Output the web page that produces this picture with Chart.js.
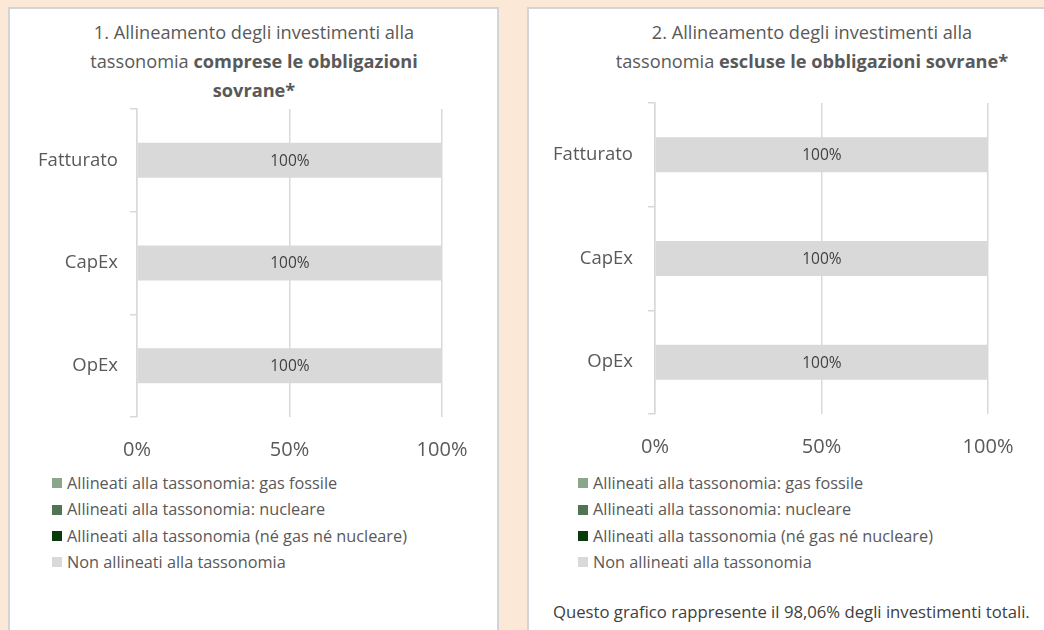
<!DOCTYPE html>
<html><head><meta charset="utf-8">
<script src="https://cdn.jsdelivr.net/npm/chart.js@4.4.1/dist/chart.umd.min.js"></script>
<style>
html,body{margin:0;padding:0;}
body{width:1044px;height:630px;background:#fbe8d6;position:relative;overflow:hidden;font-family:"Open Sans",sans-serif;color:#595959;}
.panel{position:absolute;background:#fff;border:2px solid #d3d3da;box-sizing:border-box;}
canvas{position:absolute;}
.title{position:absolute;text-align:center;font-size:18.2px;line-height:29px;color:#595959;white-space:nowrap;}
.title b{font-weight:700;}
.legend{position:absolute;font-size:16.3px;line-height:26.4px;color:#595959;white-space:nowrap;}
.legend .it{display:flex;align-items:center;}
.legend .sw{width:10px;height:10px;margin-right:5px;display:inline-block;}
.note{position:absolute;font-size:16.7px;color:#404040;white-space:nowrap;}
</style></head>
<body>
<div class="panel" style="left:8px;top:7px;width:491px;height:650px;"></div>
<div class="panel" style="left:527px;top:7px;width:540px;height:650px;"></div>

<div class="title" style="left:54px;width:400px;top:18px;">1. Allineamento degli investimenti alla<br>tassonomia <b>comprese le obbligazioni</b><br><b>sovrane*</b></div>
<div class="title" style="left:612px;width:400px;top:18px;">2. Allineamento degli investimenti alla<br>tassonomia <b>escluse le obbligazioni sovrane*</b></div>

<canvas id="c1" width="510" height="470" style="left:0;top:0;"></canvas>
<canvas id="c2" width="524" height="470" style="left:520px;top:0;"></canvas>

<div class="legend" id="lg1" style="left:52px;top:470px;"></div>
<div class="legend" id="lg2" style="left:578px;top:470px;"></div>
<div class="note" style="left:553px;top:600px;">Questo grafico rappresente il 98,06% degli investimenti totali.</div>

<script>
const categories = ["Fatturato", "CapEx", "OpEx"];
const seriesNames = [
  "Allineati alla tassonomia: gas fossile",
  "Allineati alla tassonomia: nucleare",
  "Allineati alla tassonomia (né gas né nucleare)",
  "Non allineati alla tassonomia"
];
const seriesColors = ["#8aa68b", "#4f7552", "#0b3a0b", "#d9d9d9"];
// chart 1: incl. sovereign bonds
const gasFossile1 = [0, 0, 0];
const nucleare1 = [0, 0, 0];
const neGasNeNucleare1 = [0, 0, 0];
const nonAllineati1 = [100, 100, 100];
// chart 2: excl. sovereign bonds
const gasFossile2 = [0, 0, 0];
const nucleare2 = [0, 0, 0];
const neGasNeNucleare2 = [0, 0, 0];
const nonAllineati2 = [100, 100, 100];
const xTicks = [0, 50, 100];

const labelPlugin = {
  id: 'barLabels',
  afterDatasetsDraw(chart) {
    const ctx = chart.ctx;
    chart.data.datasets.forEach((ds, di) => {
      const meta = chart.getDatasetMeta(di);
      meta.data.forEach((bar, i) => {
        const v = ds.data[i];
        if (!v) return;
        const p = bar.getProps(['x', 'base', 'y'], true);
        ctx.save();
        ctx.font = '15.5px "Open Sans", sans-serif';
        ctx.fillStyle = '#404040';
        ctx.textAlign = 'center';
        ctx.textBaseline = 'middle';
        ctx.fillText(v + '%', (p.x + p.base) / 2, p.y + 1);
        ctx.restore();
      });
    });
  }
};

function makeChart(id, data, area, canvasW, canvasH, yPad) {
  const datasets = data.map((d, k) => ({
    label: seriesNames[k],
    data: d,
    backgroundColor: seriesColors[k],
    borderWidth: 0,
    categoryPercentage: 1,
    barPercentage: 35 / ((area.bottom - area.top) / 3)
  }));
  return new Chart(document.getElementById(id), {
    type: 'bar',
    data: { labels: categories, datasets },
    options: {
      indexAxis: 'y',
      responsive: false,
      animation: false,
      devicePixelRatio: 1,
      layout: { padding: { top: area.top, left: 0, right: canvasW - area.right, bottom: canvasH - area.bottom - 50 } },
      plugins: { legend: { display: false }, tooltip: { enabled: false } },
      scales: {
        x: {
          stacked: true, min: 0, max: 100,
          afterBuildTicks(s) { s.ticks = xTicks.map(v => ({ value: v })); },
          afterFit(s) { s.height = 50; },
          grid: { color: '#d9d9d9', lineWidth: 1.5, drawTicks: false },
          border: { display: false },
          ticks: { callback: v => v + '%', color: '#595959', font: { size: 20, family: '"Open Sans", sans-serif' }, padding: 21 }
        },
        y: {
          stacked: true,
          afterFit(s) { s.width = area.left; },
          grid: { offset: true, drawOnChartArea: false, drawTicks: true, tickLength: 7, color: '#d9d9d9', lineWidth: 1.5 },
          border: { display: true, color: '#d9d9d9', width: 1.5 },
          ticks: { color: '#595959', font: { size: 18.5, family: '"Open Sans", sans-serif' }, padding: yPad }
        }
      }
    },
    plugins: [labelPlugin]
  });
}

makeChart('c1', [gasFossile1, nucleare1, neGasNeNucleare1, nonAllineati1], { left: 137, right: 442, top: 109, bottom: 417 }, 510, 470, 12);
makeChart('c2', [gasFossile2, nucleare2, neGasNeNucleare2, nonAllineati2], { left: 135, right: 468, top: 103, bottom: 414 }, 524, 470, 15);

function buildLegend(id) {
  const el = document.getElementById(id);
  seriesNames.forEach((n, k) => {
    const it = document.createElement('div');
    it.className = 'it';
    const sw = document.createElement('span');
    sw.className = 'sw';
    sw.style.background = seriesColors[k];
    const tx = document.createElement('span');
    tx.textContent = n;
    it.appendChild(sw); it.appendChild(tx);
    el.appendChild(it);
  });
}
buildLegend('lg1'); buildLegend('lg2');
</script>
</body></html>
